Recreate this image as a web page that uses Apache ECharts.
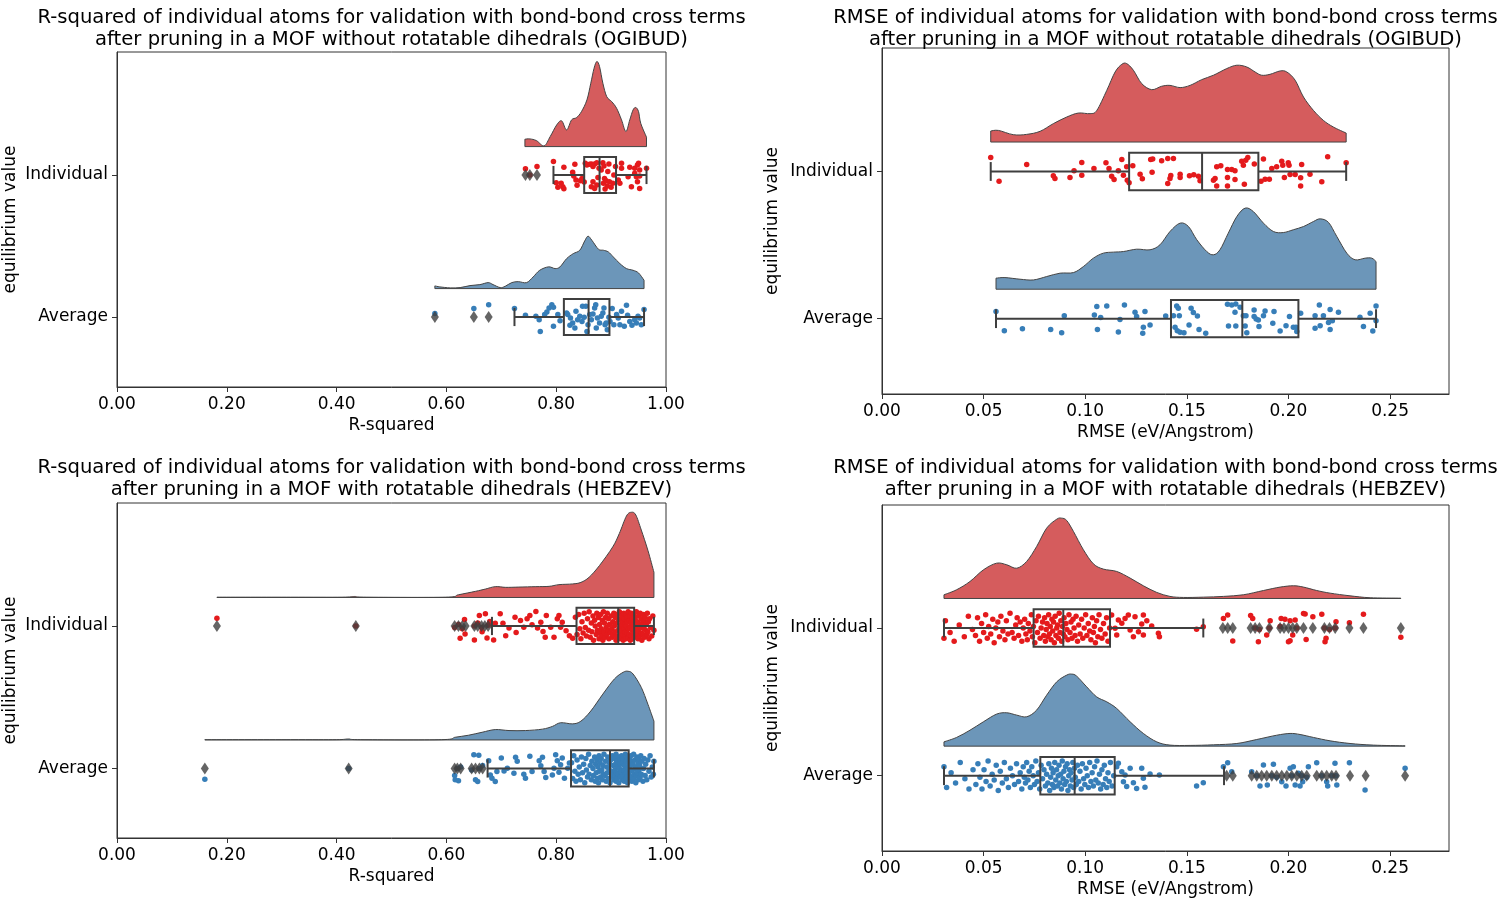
<!DOCTYPE html>
<html>
<head>
<meta charset="utf-8">
<title>Raincloud plots - bond-bond cross terms after pruning</title>
<script src="https://cdn.jsdelivr.net/npm/echarts@6.0.0/dist/echarts.min.js"></script>
<style>
  html, body { margin: 0; padding: 0; background: #fff; }
  #chart { width: 1511px; height: 900px; }
</style>
</head>
<body>
<div id="chart"></div>
<script>
// categories and ticks
var categories = ['Individual', 'Average'];
var r2Ticks = [0, 0.2, 0.4, 0.6, 0.8, 1.0];
var rmseTicks = [0, 0.05, 0.10, 0.15, 0.20, 0.25];

// ---------- panel 1 : R-squared, OGIBUD ----------
// kde profile [value, height]
var ogiR2IndKde = [[0.743,0.052],[0.752,0.054],[0.764,0.042],[0.778,0.005],[0.789,0.070],[0.801,0.153],[0.810,0.181],[0.819,0.117],[0.828,0.188],[0.837,0.204],[0.846,0.246],[0.856,0.329],[0.863,0.446],[0.869,0.552],[0.874,0.599],[0.879,0.563],[0.885,0.446],[0.892,0.352],[0.901,0.317],[0.910,0.270],[0.919,0.188],[0.927,0.106],[0.934,0.188],[0.940,0.258],[0.945,0.275],[0.950,0.246],[0.954,0.164],[0.9645,0.066]];
var ogiR2AvgKde = [[0.579,0.019],[0.588,0.012],[0.607,0.005],[0.625,0.007],[0.643,0.021],[0.661,0.028],[0.676,0.042],[0.685,0.028],[0.698,0.007],[0.707,0.016],[0.719,0.042],[0.731,0.049],[0.746,0.042],[0.758,0.082],[0.770,0.129],[0.786,0.153],[0.798,0.141],[0.807,0.153],[0.819,0.211],[0.831,0.246],[0.843,0.270],[0.852,0.336],[0.858,0.369],[0.865,0.340],[0.877,0.277],[0.886,0.270],[0.895,0.258],[0.904,0.223],[0.916,0.176],[0.928,0.141],[0.940,0.129],[0.950,0.110],[0.960,0.059]];
// box [whisker low, q1, median, q3, whisker high]
var ogiR2IndBox = [0.795, 0.851, 0.879, 0.909, 0.9645];
var ogiR2AvgBox = [0.724, 0.814, 0.859, 0.897, 0.960];
var ogiR2IndOut = [0.744, 0.752, 0.765];
var ogiR2AvgOut = [0.579, 0.650, 0.677];
// strip points [value, jitter]
var ogiR2IndPts = [[0.744,-0.043],[0.752,0.0],[0.765,-0.059],[0.795,-0.095],[0.814,-0.054],[0.800,0.054],[0.803,0.087],[0.809,0.059],[0.812,0.083],[0.814,0.097],[0.834,-0.076],[0.830,-0.019],[0.832,0.007],[0.836,0.035],[0.838,0.073],[0.844,0.040],[0.847,0.024],[0.851,0.050],[0.853,-0.083],[0.856,-0.071],[0.861,-0.076],[0.864,-0.078],[0.867,-0.059],[0.870,-0.078],[0.874,-0.087],[0.867,0.047],[0.864,0.083],[0.870,0.095],[0.874,0.071],[0.876,0.017],[0.878,-0.047],[0.882,-0.035],[0.885,-0.087],[0.887,-0.064],[0.888,0.024],[0.886,0.059],[0.889,0.099],[0.891,0.040],[0.893,0.078],[0.894,-0.024],[0.896,-0.078],[0.897,0.047],[0.900,0.087],[0.903,0.059],[0.905,0.0],[0.908,-0.059],[0.913,0.035],[0.916,0.059],[0.919,-0.083],[0.919,-0.047],[0.931,0.012],[0.934,-0.054],[0.937,0.083],[0.943,-0.047],[0.946,0.012],[0.948,-0.071],[0.950,-0.083],[0.952,-0.035],[0.948,0.047],[0.952,0.095],[0.9645,-0.047],[0.952,0.007],[0.943,-0.012]];
var ogiR2AvgPts = [[0.579,-0.024],[0.650,-0.059],[0.677,-0.087],[0.724,-0.059],[0.744,-0.012],[0.763,-0.005],[0.769,0.019],[0.771,0.102],[0.779,-0.017],[0.783,-0.035],[0.787,-0.064],[0.792,-0.087],[0.795,-0.069],[0.795,0.066],[0.803,-0.017],[0.807,0.026],[0.819,-0.028],[0.821,-0.017],[0.825,0.059],[0.826,0.007],[0.830,0.043],[0.834,0.078],[0.836,-0.040],[0.839,0.019],[0.843,-0.005],[0.847,0.031],[0.848,-0.076],[0.851,0.002],[0.854,-0.076],[0.856,0.102],[0.858,0.054],[0.861,-0.017],[0.864,0.019],[0.867,-0.021],[0.870,-0.064],[0.872,-0.087],[0.873,0.078],[0.875,0.007],[0.879,0.043],[0.882,-0.005],[0.885,-0.028],[0.887,-0.064],[0.889,0.054],[0.891,0.043],[0.893,0.090],[0.896,0.002],[0.898,0.031],[0.902,-0.059],[0.905,0.054],[0.910,-0.017],[0.913,0.007],[0.916,0.054],[0.919,-0.040],[0.924,0.066],[0.928,-0.083],[0.930,-0.012],[0.934,0.031],[0.938,0.059],[0.943,0.019],[0.946,0.043],[0.949,-0.005],[0.952,0.007],[0.955,0.054],[0.960,-0.052]];

// ---------- panel 2 : RMSE, OGIBUD ----------
var ogiRmseIndKde = [[0.0535,0.075],[0.0573,0.079],[0.0646,0.050],[0.0712,0.052],[0.0778,0.073],[0.0843,0.125],[0.0909,0.170],[0.0966,0.197],[0.1024,0.193],[0.1057,0.215],[0.1106,0.351],[0.1147,0.476],[0.1180,0.528],[0.1204,0.533],[0.1237,0.488],[0.1278,0.397],[0.1327,0.356],[0.1376,0.379],[0.1417,0.385],[0.1467,0.370],[0.1516,0.385],[0.1573,0.424],[0.1631,0.454],[0.1696,0.499],[0.1746,0.522],[0.1795,0.510],[0.1836,0.476],[0.1868,0.454],[0.1909,0.460],[0.1959,0.483],[0.1992,0.476],[0.2033,0.420],[0.2074,0.306],[0.2123,0.215],[0.2172,0.147],[0.2221,0.102],[0.2284,0.061]];
var ogiRmseAvgKde = [[0.0561,0.075],[0.0605,0.079],[0.0679,0.068],[0.0745,0.063],[0.0810,0.086],[0.0876,0.109],[0.0942,0.113],[0.0991,0.154],[0.1040,0.211],[0.1089,0.245],[0.1139,0.252],[0.1188,0.256],[0.1253,0.272],[0.1319,0.268],[0.1368,0.302],[0.1417,0.392],[0.1467,0.449],[0.1508,0.426],[0.1549,0.336],[0.1598,0.256],[0.1631,0.234],[0.1663,0.268],[0.1704,0.381],[0.1746,0.494],[0.1787,0.551],[0.1827,0.528],[0.1877,0.449],[0.1926,0.392],[0.1975,0.385],[0.2024,0.404],[0.2074,0.426],[0.2123,0.460],[0.2156,0.478],[0.2197,0.454],[0.2238,0.358],[0.2287,0.245],[0.2328,0.200],[0.2377,0.211],[0.2410,0.211],[0.2431,0.188]];
var ogiRmseIndBox = [0.0535, 0.1216, 0.1575, 0.1852, 0.2284];
var ogiRmseAvgBox = [0.0561, 0.1422, 0.1773, 0.2049, 0.2431];
var ogiRmseIndOut = [];
var ogiRmseAvgOut = [];
var ogiRmseIndPts = [[0.0535,-0.095],[0.0576,0.066],[0.0712,-0.048],[0.0843,0.029],[0.0851,0.048],[0.0925,0.041],[0.0945,-0.005],[0.0983,-0.061],[0.0983,0.025],[0.1043,-0.020],[0.1102,-0.059],[0.1117,-0.020],[0.1130,0.032],[0.1142,0.054],[0.1163,-0.005],[0.1180,-0.082],[0.1188,0.025],[0.1204,-0.032],[0.1207,0.059],[0.1216,0.077],[0.1234,-0.039],[0.1270,0.018],[0.1281,0.050],[0.1322,-0.082],[0.1332,-0.084],[0.1329,0.005],[0.1376,-0.073],[0.1406,-0.088],[0.1434,-0.088],[0.1406,0.082],[0.1417,0.048],[0.1421,0.027],[0.1467,0.018],[0.1467,0.041],[0.1513,0.029],[0.1534,0.023],[0.1557,0.032],[0.1565,0.063],[0.1631,0.059],[0.1639,0.048],[0.1647,-0.032],[0.1667,-0.039],[0.1700,-0.014],[0.1721,-0.014],[0.1737,-0.005],[0.1700,0.041],[0.1737,0.054],[0.1647,0.098],[0.1700,0.098],[0.1783,0.086],[0.1770,-0.070],[0.1778,-0.043],[0.1790,-0.077],[0.1800,-0.095],[0.1832,-0.050],[0.1877,-0.084],[0.1865,0.066],[0.1885,0.052],[0.1906,0.052],[0.1918,-0.020],[0.1942,-0.032],[0.1967,-0.070],[0.1972,-0.043],[0.1980,0.041],[0.1999,-0.059],[0.2003,-0.043],[0.2008,0.020],[0.2033,0.020],[0.2060,0.043],[0.2060,0.098],[0.2065,-0.048],[0.2106,0.018],[0.2164,0.070],[0.2193,-0.100],[0.2284,-0.059]];
var ogiRmseAvgPts = [[0.0561,-0.048],[0.0602,0.082],[0.0691,0.068],[0.0830,0.073],[0.0884,0.095],[0.0897,-0.020],[0.1045,-0.025],[0.1057,-0.082],[0.1060,0.073],[0.1076,-0.007],[0.1106,-0.086],[0.1163,0.091],[0.1171,0.005],[0.1193,-0.093],[0.1245,-0.043],[0.1253,-0.014],[0.1286,0.059],[0.1283,0.100],[0.1294,-0.048],[0.1319,0.043],[0.1396,-0.018],[0.1434,-0.020],[0.1442,0.059],[0.1450,-0.086],[0.1458,-0.070],[0.1463,-0.020],[0.1453,0.082],[0.1467,0.093],[0.1486,0.095],[0.1511,0.043],[0.1521,-0.070],[0.1532,-0.041],[0.1552,-0.018],[0.1560,0.073],[0.1593,0.100],[0.1700,-0.098],[0.1721,-0.093],[0.1741,-0.100],[0.1737,-0.043],[0.1705,0.050],[0.1741,0.050],[0.1762,-0.077],[0.1778,-0.020],[0.1791,-0.020],[0.1787,0.050],[0.1795,0.095],[0.1831,-0.059],[0.1831,-0.014],[0.1841,0.002],[0.1855,0.054],[0.1852,0.009],[0.1877,-0.020],[0.1885,-0.052],[0.1923,0.032],[0.1929,-0.048],[0.1959,0.084],[0.1988,0.048],[0.2005,-0.014],[0.2024,0.059],[0.2037,0.059],[0.2041,0.088],[0.2060,-0.036],[0.2131,-0.020],[0.2131,0.066],[0.2152,-0.093],[0.2156,0.048],[0.2172,-0.020],[0.2205,-0.063],[0.2197,0.027],[0.2205,0.073],[0.2216,0.014],[0.2246,-0.043],[0.2352,-0.009],[0.2369,0.054],[0.2402,-0.036],[0.2415,0.084],[0.2431,-0.086],[0.2431,0.014]];

// ---------- panel 3 : R-squared, HEBZEV ----------
var hebR2IndKde = [[0.182,0.002],[0.316,0.002],[0.410,0.002],[0.433,0.007],[0.455,0.002],[0.598,0.002],[0.622,0.019],[0.653,0.043],[0.671,0.059],[0.689,0.076],[0.708,0.071],[0.732,0.073],[0.763,0.076],[0.787,0.078],[0.805,0.090],[0.830,0.095],[0.845,0.106],[0.860,0.142],[0.879,0.225],[0.903,0.355],[0.915,0.449],[0.928,0.572],[0.937,0.598],[0.945,0.579],[0.955,0.473],[0.967,0.331],[0.978,0.177]];
var hebR2AvgKde = [[0.160,0.002],[0.316,0.002],[0.400,0.002],[0.422,0.007],[0.444,0.002],[0.591,0.002],[0.616,0.019],[0.640,0.033],[0.665,0.054],[0.689,0.073],[0.714,0.066],[0.744,0.066],[0.775,0.076],[0.793,0.095],[0.808,0.121],[0.830,0.113],[0.845,0.132],[0.863,0.203],[0.885,0.322],[0.906,0.428],[0.922,0.475],[0.931,0.482],[0.940,0.463],[0.955,0.369],[0.967,0.251],[0.978,0.132]];
var hebR2IndBox = [0.683, 0.837, 0.913, 0.942, 0.978];
var hebR2AvgBox = [0.675, 0.827, 0.898, 0.932, 0.978];
var hebR2IndOut = [0.182, 0.435, 0.615, 0.622, 0.629, 0.635, 0.651, 0.657, 0.664, 0.670, 0.676];
var hebR2AvgOut = [0.160, 0.422, 0.615, 0.620, 0.626, 0.646, 0.653, 0.660, 0.666];
var hebR2IndPtsLow = [[0.182,-0.054],[0.435,0.0],[0.615,0.01],[0.622,-0.01],[0.629,0.02],[0.651,0.0],[0.657,-0.02],[0.664,0.01],[0.676,-0.005],[0.625,0.087],[0.633,-0.045],[0.634,0.057],[0.651,0.099],[0.660,-0.073],[0.665,0.040],[0.671,-0.085],[0.674,0.085],[0.679,-0.031],[0.686,0.099],[0.689,-0.019],[0.698,-0.085],[0.703,-0.019],[0.708,0.069],[0.714,0.014],[0.725,-0.061],[0.727,0.045],[0.735,-0.038],[0.741,0.009],[0.747,-0.050],[0.752,-0.073],[0.756,-0.009],[0.763,-0.102],[0.766,0.014],[0.772,-0.026],[0.776,0.038],[0.780,0.080],[0.782,-0.073],[0.790,0.009],[0.796,0.080],[0.802,-0.050],[0.805,-0.073],[0.808,0.009],[0.811,-0.026],[0.818,0.033],[0.824,0.069],[0.830,0.087],[0.835,-0.061]];
var hebR2IndPtsHigh = [[0.838,0.06],[0.841,-0.08],[0.843,0.02],[0.845,0.09],[0.847,-0.03],[0.849,0.05],[0.851,-0.09],[0.853,0.01],[0.855,0.07],[0.857,-0.05],[0.859,0.03],[0.860,-0.10],[0.862,0.08],[0.864,-0.02],[0.865,0.04],[0.867,-0.07],[0.868,0.10],[0.870,-0.04],[0.871,0.00],[0.873,0.06],[0.874,-0.09],[0.875,0.03],[0.877,-0.06],[0.878,0.09],[0.879,-0.01],[0.880,0.05],[0.881,-0.08],[0.882,0.02],[0.883,0.07],[0.884,-0.04],[0.885,0.10],[0.886,-0.10],[0.887,0.04],[0.888,-0.02],[0.889,0.08],[0.890,-0.06],[0.891,0.01],[0.892,0.06],[0.893,-0.09],[0.894,0.03],[0.895,-0.05],[0.896,0.09],[0.897,-0.01],[0.899,0.05],[0.900,-0.07],[0.901,0.02],[0.902,0.08],[0.903,-0.03],[0.904,0.06],[0.905,-0.09],[0.906,0.00],[0.907,0.04],[0.908,-0.06],[0.909,0.10],[0.910,-0.02],[0.911,0.07],[0.912,-0.08],[0.913,0.03],[0.914,-0.04],[0.915,0.09],[0.915,-0.10],[0.916,0.01],[0.917,0.05],[0.917,-0.05],[0.918,0.08],[0.919,-0.01],[0.919,0.04],[0.920,-0.07],[0.921,0.06],[0.921,-0.03],[0.922,0.10],[0.923,-0.09],[0.923,0.02],[0.924,-0.05],[0.925,0.07],[0.925,-0.01],[0.926,0.04],[0.927,-0.08],[0.927,0.09],[0.928,0.00],[0.929,-0.06],[0.929,0.05],[0.930,-0.03],[0.931,0.08],[0.931,-0.10],[0.932,0.02],[0.933,-0.04],[0.933,0.06],[0.934,-0.07],[0.935,0.10],[0.935,0.01],[0.936,-0.02],[0.937,0.07],[0.937,-0.09],[0.938,0.03],[0.939,-0.05],[0.939,0.09],[0.940,-0.01],[0.941,0.05],[0.941,-0.08],[0.942,0.02],[0.943,-0.04],[0.943,0.08],[0.944,-0.06],[0.945,0.00],[0.946,0.06],[0.946,-0.10],[0.947,0.03],[0.948,-0.03],[0.949,0.09],[0.950,-0.07],[0.950,0.04],[0.951,-0.01],[0.952,0.07],[0.953,-0.09],[0.954,0.01],[0.955,0.05],[0.955,-0.05],[0.956,0.10],[0.957,-0.02],[0.958,0.06],[0.959,-0.08],[0.960,0.02],[0.960,-0.04],[0.961,0.08],[0.962,-0.06],[0.963,0.03],[0.964,-0.01],[0.965,0.06],[0.966,-0.09],[0.967,0.04],[0.968,-0.03],[0.969,0.09],[0.970,-0.05],[0.972,0.01],[0.974,0.07],[0.976,-0.07],[0.978,0.03]];
var hebR2AvgPtsLow = [[0.160,0.076],[0.422,0.0],[0.620,0.0],[0.626,-0.01],[0.646,0.01],[0.660,0.0],[0.666,-0.02],[0.615,0.050],[0.616,0.080],[0.622,0.087],[0.650,-0.097],[0.659,-0.092],[0.653,0.080],[0.657,0.092],[0.677,-0.054],[0.680,0.045],[0.683,0.069],[0.689,0.092],[0.692,0.021],[0.700,-0.073],[0.705,0.017],[0.711,-0.002],[0.723,0.033],[0.726,-0.078],[0.729,-0.050],[0.741,0.040],[0.744,0.069],[0.752,-0.085],[0.756,0.021],[0.769,-0.054],[0.772,-0.019],[0.775,-0.078],[0.778,0.021],[0.781,0.064],[0.793,0.045],[0.796,-0.002],[0.799,-0.097],[0.802,-0.054],[0.805,0.026],[0.808,-0.026],[0.811,-0.073],[0.815,0.069],[0.821,-0.002],[0.824,-0.038]];
var hebR2AvgPtsHigh = [[0.828,-0.04],[0.830,0.07],[0.832,-0.09],[0.834,0.02],[0.836,0.09],[0.838,-0.06],[0.840,0.04],[0.842,-0.01],[0.844,0.08],[0.846,-0.08],[0.848,0.03],[0.850,-0.03],[0.852,0.10],[0.854,-0.07],[0.855,0.01],[0.857,0.06],[0.859,-0.10],[0.860,0.04],[0.862,-0.02],[0.864,0.08],[0.865,-0.05],[0.867,0.00],[0.868,0.05],[0.870,-0.08],[0.871,0.09],[0.872,-0.03],[0.873,0.03],[0.874,-0.06],[0.875,0.07],[0.876,-0.01],[0.877,0.10],[0.878,-0.09],[0.879,0.02],[0.880,-0.04],[0.881,0.06],[0.882,-0.07],[0.883,0.01],[0.884,0.08],[0.885,-0.02],[0.886,0.04],[0.887,-0.10],[0.889,0.05],[0.890,-0.05],[0.891,0.09],[0.892,-0.01],[0.893,0.03],[0.894,-0.08],[0.895,0.07],[0.896,0.00],[0.897,-0.04],[0.898,0.10],[0.899,-0.06],[0.900,0.02],[0.901,0.06],[0.902,-0.09],[0.903,0.04],[0.904,-0.02],[0.905,0.08],[0.906,-0.07],[0.907,0.01],[0.907,0.05],[0.908,-0.03],[0.909,0.09],[0.909,-0.10],[0.910,0.03],[0.910,-0.05],[0.911,0.07],[0.912,-0.01],[0.913,0.04],[0.914,-0.08],[0.914,0.10],[0.915,0.00],[0.916,-0.06],[0.917,0.06],[0.917,-0.03],[0.918,0.02],[0.919,-0.09],[0.920,0.08],[0.921,-0.04],[0.921,0.05],[0.922,-0.07],[0.923,0.01],[0.924,0.09],[0.924,-0.02],[0.925,0.04],[0.926,-0.10],[0.927,0.07],[0.927,-0.05],[0.928,0.03],[0.929,-0.01],[0.929,0.06],[0.930,-0.08],[0.930,0.10],[0.931,0.00],[0.932,-0.04],[0.933,0.05],[0.933,-0.07],[0.934,0.08],[0.935,-0.02],[0.935,0.02],[0.936,-0.09],[0.937,0.06],[0.937,-0.05],[0.938,0.09],[0.939,0.01],[0.940,-0.03],[0.941,0.07],[0.941,-0.10],[0.942,0.04],[0.943,-0.06],[0.944,0.00],[0.945,0.10],[0.945,-0.01],[0.946,0.05],[0.947,-0.08],[0.948,0.03],[0.949,-0.04],[0.950,0.08],[0.950,-0.07],[0.951,0.01],[0.952,-0.02],[0.953,0.06],[0.954,-0.09],[0.955,0.04],[0.956,-0.05],[0.958,0.09],[0.959,0.00],[0.960,-0.07],[0.962,0.05],[0.963,-0.03],[0.965,0.08],[0.967,-0.06],[0.969,0.02],[0.971,-0.09],[0.973,0.06],[0.975,-0.01],[0.977,0.04],[0.978,-0.05]];

// ---------- panel 4 : RMSE, HEBZEV ----------
var hebRmseIndKde = [[0.0305,0.025],[0.0367,0.059],[0.0433,0.115],[0.0499,0.194],[0.0564,0.239],[0.0614,0.228],[0.0663,0.205],[0.0712,0.251],[0.0761,0.352],[0.0810,0.476],[0.0860,0.537],[0.0884,0.544],[0.0909,0.528],[0.0942,0.454],[0.0991,0.330],[0.1040,0.235],[0.1089,0.199],[0.1155,0.183],[0.1221,0.138],[0.1286,0.086],[0.1352,0.041],[0.1417,0.014],[0.1483,0.007],[0.1581,0.009],[0.1680,0.014],[0.1778,0.025],[0.1877,0.054],[0.1959,0.077],[0.2024,0.086],[0.2074,0.077],[0.2139,0.054],[0.2205,0.036],[0.2303,0.018],[0.2402,0.005],[0.2553,0.002]];
var hebRmseAvgKde = [[0.0305,0.029],[0.0367,0.059],[0.0433,0.108],[0.0499,0.165],[0.0564,0.217],[0.0614,0.226],[0.0663,0.210],[0.0712,0.199],[0.0761,0.244],[0.0810,0.345],[0.0860,0.436],[0.0909,0.481],[0.0933,0.488],[0.0958,0.474],[0.1007,0.402],[0.1056,0.334],[0.1106,0.300],[0.1155,0.255],[0.1221,0.165],[0.1286,0.086],[0.1352,0.029],[0.1417,0.007],[0.1516,0.005],[0.1631,0.009],[0.1746,0.018],[0.1844,0.045],[0.1942,0.074],[0.2008,0.086],[0.2057,0.079],[0.2123,0.059],[0.2205,0.036],[0.2303,0.018],[0.2418,0.007],[0.2574,0.002]];
var hebRmseIndBox = [0.0305, 0.0746, 0.0892, 0.1122, 0.1581];
var hebRmseAvgBox = [0.0305, 0.0779, 0.0948, 0.1145, 0.1683];
var hebRmseIndOut = [0.1677,0.1701,0.1726,0.1814,0.1836,0.1857,0.1906,0.1959,0.1978,0.2000,0.2021,0.2041,0.2074,0.2120,0.2177,0.2202,0.2230,0.2300,0.2369,0.2553];
var hebRmseAvgOut = [0.1696,0.1726,0.1819,0.1844,0.1868,0.1893,0.1918,0.1942,0.1967,0.1992,0.2016,0.2041,0.2065,0.2090,0.2139,0.2164,0.2188,0.2213,0.2234,0.2303,0.2380,0.2574];
var hebRmseIndPtsLow = [[0.0305,0.07],[0.0312,-0.05],[0.0335,0.03],[0.0355,0.09],[0.0380,-0.02],[0.0405,0.06],[0.0425,-0.08],[0.0445,0.01],[0.0460,0.05],[0.0470,-0.07],[0.0480,0.09],[0.0490,-0.03],[0.0500,0.03],[0.0510,-0.09],[0.0518,0.07],[0.0525,-0.01],[0.0535,0.04],[0.0545,-0.06],[0.0552,0.10],[0.0560,0.00],[0.0570,-0.04],[0.0578,0.06],[0.0585,-0.08],[0.0595,0.02],[0.0605,0.08],[0.0612,-0.05],[0.0620,0.04],[0.0630,-0.10],[0.0640,0.03],[0.0650,0.07],[0.0658,-0.02],[0.0665,-0.07],[0.0672,0.05],[0.0680,-0.04],[0.0688,0.09],[0.0695,0.00],[0.0702,-0.06],[0.0708,0.04],[0.0715,0.08],[0.0720,-0.03],[0.0728,0.02],[0.0735,-0.09],[0.0740,0.06],[0.0745,-0.01],[0.0752,0.10],[0.0758,-0.05],[0.0765,0.03],[0.0770,-0.08],[0.0778,0.07],[0.0783,0.00],[0.0790,-0.04],[0.0796,0.05]];
var hebRmseIndPtsMid = [[0.0800,-0.07],[0.0804,0.09],[0.0808,0.01],[0.0812,-0.03],[0.0816,0.06],[0.0820,-0.09],[0.0824,0.04],[0.0828,-0.01],[0.0832,0.08],[0.0836,-0.06],[0.0840,0.02],[0.0844,-0.04],[0.0848,0.10],[0.0852,-0.08],[0.0856,0.05],[0.0860,0.00],[0.0864,-0.02],[0.0868,0.07],[0.0872,-0.10],[0.0876,0.03],[0.0880,-0.05],[0.0884,0.09],[0.0888,-0.01],[0.0892,0.04],[0.0896,-0.07],[0.0900,0.06],[0.0905,-0.03],[0.0910,0.01],[0.0915,0.08],[0.0920,-0.09],[0.0925,0.03],[0.0930,-0.04],[0.0935,0.07],[0.0940,-0.06],[0.0945,0.00],[0.0950,0.05],[0.0955,-0.08],[0.0962,0.09],[0.0968,-0.02],[0.0975,0.04],[0.0982,-0.06],[0.0988,0.07],[0.0995,0.00],[0.1002,-0.09],[0.1008,0.05],[0.1015,-0.03],[0.1022,0.02],[0.1028,0.08],[0.1035,-0.07],[0.1040,0.03],[0.1045,-0.01],[0.1050,0.10],[0.1056,-0.05],[0.1062,0.06],[0.1068,-0.09],[0.1075,0.01],[0.1082,0.07],[0.1090,-0.03],[0.1098,0.04],[0.1105,-0.07],[0.1112,0.09],[0.1120,0.00]];
var hebRmseIndPtsHigh = [[0.1130,-0.088],[0.1147,0.002],[0.1155,0.047],[0.1163,-0.054],[0.1180,-0.032],[0.1196,-0.065],[0.1212,-0.088],[0.1221,0.014],[0.1237,0.059],[0.1245,-0.077],[0.1262,0.025],[0.1278,-0.027],[0.1286,-0.088],[0.1286,0.047],[0.1303,-0.050],[0.1327,-0.014],[0.1360,0.036],[0.1365,0.059],[0.1548,0.009],[0.1581,-0.009],[0.1680,-0.065],[0.1701,-0.088],[0.1726,0.088],[0.1814,-0.084],[0.1824,-0.065],[0.1852,0.093],[0.1893,0.047],[0.1910,-0.050],[0.1964,-0.065],[0.1983,-0.059],[0.2008,-0.050],[0.2033,-0.054],[0.2021,0.047],[0.2008,0.086],[0.2000,0.093],[0.2074,-0.099],[0.2082,-0.095],[0.2087,0.077],[0.2120,-0.077],[0.2164,-0.093],[0.2185,0.070],[0.2180,0.093],[0.2234,-0.043],[0.2300,-0.036],[0.2369,-0.093],[0.2553,0.063],[0.1836,0.0],[0.1857,0.01],[0.1906,0.0],[0.1959,-0.01],[0.2041,0.0],[0.2177,0.0],[0.2202,0.01],[0.2230,0.0]];
var hebRmseAvgPtsLow = [[0.0305,-0.06],[0.0318,0.08],[0.0340,-0.02],[0.0362,0.05],[0.0385,-0.09],[0.0408,0.02],[0.0428,0.09],[0.0448,-0.04],[0.0462,0.06],[0.0472,-0.08],[0.0482,0.01],[0.0492,0.09],[0.0502,-0.04],[0.0512,0.04],[0.0522,-0.10],[0.0532,0.07],[0.0542,-0.01],[0.0552,0.03],[0.0562,-0.07],[0.0572,0.10],[0.0582,-0.03],[0.0592,0.05],[0.0602,-0.09],[0.0612,0.02],[0.0622,0.08],[0.0632,-0.05],[0.0642,0.00],[0.0652,0.06],[0.0662,-0.08],[0.0672,0.04],[0.0680,-0.02],[0.0688,0.09],[0.0695,-0.06],[0.0700,0.01],[0.0706,0.05],[0.0712,-0.09],[0.0718,0.03],[0.0724,-0.03],[0.0730,0.08],[0.0737,-0.06],[0.0744,0.00],[0.0750,0.06],[0.0757,-0.10],[0.0763,0.04],[0.0770,-0.02],[0.0776,0.09],[0.0783,-0.07],[0.0790,0.02],[0.0797,-0.04],[0.0804,0.07],[0.0810,-0.01],[0.0816,0.05]];
var hebRmseAvgPtsMid = [[0.0821,-0.08],[0.0825,0.10],[0.0830,0.01],[0.0834,-0.05],[0.0838,0.06],[0.0842,-0.02],[0.0846,0.08],[0.0850,-0.09],[0.0855,0.03],[0.0859,-0.04],[0.0863,0.07],[0.0867,0.00],[0.0871,-0.07],[0.0875,0.05],[0.0879,-0.01],[0.0883,0.09],[0.0887,-0.10],[0.0891,0.02],[0.0895,-0.03],[0.0899,0.06],[0.0903,-0.06],[0.0907,0.04],[0.0911,-0.08],[0.0915,0.10],[0.0919,0.00],[0.0923,-0.04],[0.0927,0.07],[0.0931,-0.02],[0.0935,0.03],[0.0939,-0.09],[0.0943,0.08],[0.0947,-0.05],[0.0951,0.01],[0.0956,0.06],[0.0962,-0.07],[0.0968,0.04],[0.0974,-0.03],[0.0980,0.09],[0.0986,-0.08],[0.0992,0.02],[0.0998,0.06],[0.1004,-0.05],[0.1010,0.00],[0.1016,0.08],[0.1022,-0.09],[0.1028,0.04],[0.1034,-0.02],[0.1040,0.07],[0.1046,-0.06],[0.1052,0.03],[0.1058,-0.10],[0.1064,0.05],[0.1070,-0.01],[0.1076,0.09],[0.1082,-0.04],[0.1088,0.06],[0.1094,-0.07],[0.1100,0.02],[0.1106,0.08],[0.1112,-0.02],[0.1118,0.04],[0.1124,-0.09],[0.1132,0.07],[0.1140,0.00]];
var hebRmseAvgPtsHigh = [[0.1155,-0.061],[0.1163,-0.084],[0.1180,-0.027],[0.1188,0.041],[0.1196,-0.005],[0.1204,0.074],[0.1221,-0.050],[0.1237,0.047],[0.1253,0.086],[0.1278,-0.050],[0.1286,0.018],[0.1294,0.079],[0.1319,-0.011],[0.1365,-0.005],[0.1548,0.070],[0.1581,0.047],[0.1701,-0.088],[0.1680,-0.061],[0.1721,-0.027],[0.1819,-0.027],[0.1860,0.070],[0.1877,-0.072],[0.1896,0.063],[0.1926,-0.077],[0.1967,0.041],[0.1988,0.070],[0.2008,-0.050],[0.2024,-0.061],[0.2033,0.063],[0.2049,-0.016],[0.2057,0.070],[0.2070,0.041],[0.2098,-0.061],[0.2139,-0.088],[0.2188,0.041],[0.2193,0.070],[0.2229,-0.084],[0.2238,0.063],[0.2300,-0.088],[0.2377,0.097],[0.2574,-0.050],[0.1844,0.0],[0.1918,0.0],[0.1942,0.01],[0.2016,0.0],[0.2065,0.0],[0.2090,0.01],[0.2164,0.0],[0.2213,0.0],[0.2234,0.0]];

// ---------- look ----------
var fontFamily = 'DejaVu Sans';
var violinColors = ['#d55c5d', '#6c96b9'];
var pointColors = ['#e41a1c', '#377eb8'];
var boxColor = '#3f3f3f';
var violinBase = 0.2;   // half violin sits this far above the category
var boxHalf = 0.127;
var capHalf = 0.064;

var panels = [
  { title: 'R-squared of individual atoms for validation with bond-bond cross terms\nafter pruning in a MOF without rotatable dihedrals (OGIBUD)',
    xName: 'R-squared', ticks: r2Ticks, xMax: 1.0, yMin: -0.866, yMax: 1.493,
    grid: { left: 117, top: 52, width: 549, height: 335 }, titleTop: 6.5,
    kde: [ogiR2IndKde, ogiR2AvgKde], box: [ogiR2IndBox, ogiR2AvgBox], out: [ogiR2IndOut, ogiR2AvgOut],
    pts: [ogiR2IndPts, ogiR2AvgPts] },
  { title: 'RMSE of individual atoms for validation with bond-bond cross terms\nafter pruning in a MOF without rotatable dihedrals (OGIBUD)',
    xName: 'RMSE (eV/Angstrom)', ticks: rmseTicks, xMax: 0.279, yMin: -0.839, yMax: 1.512,
    grid: { left: 882, top: 48, width: 567, height: 346 }, titleTop: 6.5,
    kde: [ogiRmseIndKde, ogiRmseAvgKde], box: [ogiRmseIndBox, ogiRmseAvgBox], out: [ogiRmseIndOut, ogiRmseAvgOut],
    pts: [ogiRmseIndPts, ogiRmseAvgPts] },
  { title: 'R-squared of individual atoms for validation with bond-bond cross terms\nafter pruning in a MOF with rotatable dihedrals (HEBZEV)',
    xName: 'R-squared', ticks: r2Ticks, xMax: 1.0, yMin: -0.863, yMax: 1.488,
    grid: { left: 117, top: 503, width: 549, height: 335 }, titleTop: 456.5,
    kde: [hebR2IndKde, hebR2AvgKde], box: [hebR2IndBox, hebR2AvgBox], out: [hebR2IndOut, hebR2AvgOut],
    pts: [hebR2IndPtsLow.concat(hebR2IndPtsHigh), hebR2AvgPtsLow.concat(hebR2AvgPtsHigh)] },
  { title: 'RMSE of individual atoms for validation with bond-bond cross terms\nafter pruning in a MOF with rotatable dihedrals (HEBZEV)',
    xName: 'RMSE (eV/Angstrom)', ticks: rmseTicks, xMax: 0.279, yMin: -0.833, yMax: 1.510,
    grid: { left: 882, top: 505, width: 567, height: 346 }, titleTop: 456.5,
    kde: [hebRmseIndKde, hebRmseAvgKde], box: [hebRmseIndBox, hebRmseAvgBox], out: [hebRmseIndOut, hebRmseAvgOut],
    pts: [hebRmseIndPtsLow.concat(hebRmseIndPtsMid, hebRmseIndPtsHigh), hebRmseAvgPtsLow.concat(hebRmseAvgPtsMid, hebRmseAvgPtsHigh)] }
];

// half violin as a closed path, top edge smoothed (catmull-rom)
function violinRender(kde, cat, color) {
  return function (params, api) {
    var pts = kde.map(function (d) { return api.coord([d[0], cat - violinBase - d[1]]); });
    var b0 = api.coord([kde[0][0], cat - violinBase]);
    var b1 = api.coord([kde[kde.length - 1][0], cat - violinBase]);
    var d = 'M' + b0[0] + ' ' + b0[1] + ' L' + pts[0][0] + ' ' + pts[0][1];
    for (var i = 0; i < pts.length - 1; i++) {
      var p0 = pts[i - 1] || pts[i], p1 = pts[i], p2 = pts[i + 1], p3 = pts[i + 2] || pts[i + 1];
      d += ' C' + (p1[0] + (p2[0] - p0[0]) / 6) + ' ' + (p1[1] + (p2[1] - p0[1]) / 6) + ' ' +
           (p2[0] - (p3[0] - p1[0]) / 6) + ' ' + (p2[1] - (p3[1] - p1[1]) / 6) + ' ' + p2[0] + ' ' + p2[1];
    }
    d += ' L' + b1[0] + ' ' + b1[1] + ' Z';
    return { type: 'path', shape: { pathData: d }, style: { fill: color, stroke: '#444', lineWidth: 1 } };
  };
}

function boxRender(params, api) {
  var c = api.value(0), lo = api.value(1), q1 = api.value(2), md = api.value(3), q3 = api.value(4), hi = api.value(5);
  var a = api.coord([q1, c - boxHalf]), b = api.coord([q3, c + boxHalf]);
  function seg(x1, y1, x2, y2) {
    var p = api.coord([x1, y1]), q = api.coord([x2, y2]);
    return { type: 'line', shape: { x1: p[0], y1: p[1], x2: q[0], y2: q[1] }, style: { stroke: boxColor, lineWidth: 2 } };
  }
  return { type: 'group', children: [
    { type: 'rect', shape: { x: a[0], y: a[1], width: b[0] - a[0], height: b[1] - a[1] },
      style: { fill: 'none', stroke: boxColor, lineWidth: 2 } },
    seg(lo, c, q1, c), seg(q3, c, hi, c),
    seg(lo, c - capHalf, lo, c + capHalf), seg(hi, c - capHalf, hi, c + capHalf),
    seg(md, c - boxHalf, md, c + boxHalf)
  ] };
}

var option = { animation: false, backgroundColor: '#fff', title: [], grid: [], xAxis: [], yAxis: [], series: [] };
var textBase = { color: '#000', fontFamily: fontFamily, fontSize: 17 };

panels.forEach(function (p, gi) {
  option.title.push({
    text: p.title, left: p.grid.left + p.grid.width / 2, top: p.titleTop, textAlign: 'center', padding: 0,
    textStyle: { color: '#000', fontFamily: fontFamily, fontSize: 19.6, fontWeight: 'normal', lineHeight: 22.5 }
  });
  option.grid.push({ left: p.grid.left, top: p.grid.top, width: p.grid.width, height: p.grid.height,
    show: true, borderColor: '#333', borderWidth: 1, backgroundColor: 'transparent' });
  option.xAxis.push({
    gridIndex: gi, type: 'value', min: 0, max: p.xMax,
    name: p.xName, nameLocation: 'middle', nameGap: 30, nameTextStyle: textBase,
    axisLine: { show: true, onZero: false, lineStyle: { color: '#333', width: 1 } },
    axisTick: { show: true, length: 5, customValues: p.ticks, lineStyle: { color: '#333' } },
    axisLabel: { customValues: p.ticks, margin: 9, color: '#000', fontFamily: fontFamily, fontSize: 17,
      formatter: function (v) { return v.toFixed(2); } },
    splitLine: { show: false }
  });
  option.yAxis.push({
    gridIndex: gi, type: 'value', inverse: true, min: p.yMin, max: p.yMax,
    name: 'equilibrium value', nameLocation: 'middle', nameGap: gi % 2 ? 101 : 98, nameTextStyle: textBase,
    axisLine: { show: true, onZero: false, lineStyle: { color: '#333', width: 1 } },
    axisTick: { show: true, length: 5, customValues: [0, 1], lineStyle: { color: '#333' } },
    axisLabel: { customValues: [0, 1], margin: 9, color: '#000', fontFamily: fontFamily, fontSize: 17,
      formatter: function (v) { return categories[Math.round(v)]; } },
    splitLine: { show: false }
  });

  [0, 1].forEach(function (cat) {
    option.series.push({
      type: 'custom', xAxisIndex: gi, yAxisIndex: gi, z: 1, silent: true,
      data: [0], renderItem: violinRender(p.kde[cat], cat, violinColors[cat])
    });
    option.series.push({
      type: 'scatter', xAxisIndex: gi, yAxisIndex: gi, z: 2, silent: true,
      symbol: 'circle', symbolSize: 5.5, itemStyle: { color: pointColors[cat], opacity: 1 },
      data: p.pts[cat].map(function (d) { return [d[0], cat + d[1]]; })
    });
  });
  option.series.push({
    type: 'custom', xAxisIndex: gi, yAxisIndex: gi, z: 3, silent: true, renderItem: boxRender,
    data: [0, 1].map(function (cat) { return [cat].concat(p.box[cat]); })
  });
  option.series.push({
    type: 'scatter', xAxisIndex: gi, yAxisIndex: gi, z: 4, silent: true,
    symbol: 'diamond', symbolSize: [8, 12], itemStyle: { color: boxColor },
    data: p.out[0].map(function (v) { return [v, 0]; }).concat(p.out[1].map(function (v) { return [v, 1]; }))
  });
});

var chart = echarts.init(document.getElementById('chart'), null, { renderer: 'canvas' });
chart.setOption(option);
</script>
</body>
</html>
